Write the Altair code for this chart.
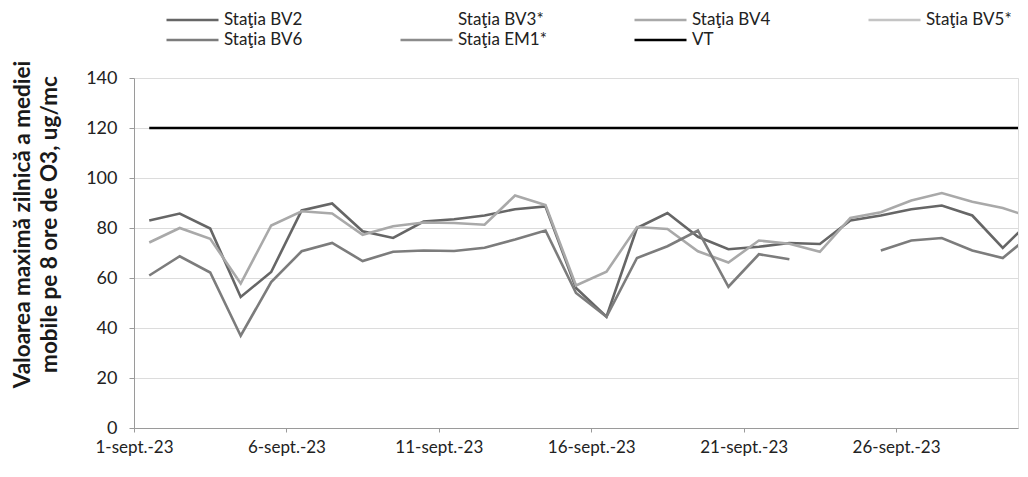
import altair as alt
import pandas as pd

days = list(range(1, 31))

series_names = ["Staţia BV2", "Staţia BV3*", "Staţia BV4", "Staţia BV5*",
                "Staţia BV6", "Staţia EM1*", "VT"]
series_colors = ["#666666", "#ffffff", "#a9a9a9", "#c4c4c4",
                 "#7c7c7c", "#8c8c8c", "#000000"]

bv2 = [83, 85.8, 79.8, 52.4, 62.4, 87, 89.8, 78.7, 76, 82.6,
       83.5, 85, 87.5, 88.6, 56, 44.5, 80, 86, 76.5, 71.5,
       72.5, 74, 73.6, 83, 85, 87.5, 89, 85, 72, 84]
bv4 = [74.2, 80, 75.7, 57.8, 81, 86.7, 85.8, 77.3, 80.7, 82.2,
       82, 81.3, 93, 89.2, 57, 62.5, 80.4, 79.6, 70.7, 66.2,
       75, 73.7, 70.5, 84, 86.3, 91, 94, 90.5, 88, 84]
bv6 = [61, 68.7, 62.2, 36.9, 58.4, 70.7, 74, 66.8, 70.5, 71,
       70.8, 72.1, 75.4, 79, 54, 44.5, 68, 72.7, 79, 56.5,
       69.5, 67.5, None, None, 71, 75, 76, 71, 68, 78]
vt = [120] * 30

values_by_series = {
    "Staţia BV2": bv2,
    "Staţia BV4": bv4,
    "Staţia BV6": bv6,
    "VT": vt,
}

rows = []
for name, vals in values_by_series.items():
    for d, v in zip(days, vals):
        rows.append({"date": f"2023-09-{d:02d}T12:00:00", "serie": name, "val": v})
df = pd.DataFrame(rows)

tick_days = [1, 6, 11, 16, 21, 26]

x_axis = alt.Axis(
    values=[alt.DateTime(year=2023, month=9, date=d) for d in tick_days],
    labelExpr="date(datum.value) + '-sept.-23'",
    title=None, grid=False, domainColor="#9a9a9a", tickColor="#9a9a9a",
    tickSize=4, labelPadding=7, labelFontSize=17, labelColor="#222222",
    labelFont="Lato", labelAngle=0, labelFlush=False,
)

y_axis = alt.Axis(
    values=[0, 20, 40, 60, 80, 100, 120, 140],
    title=["Valoarea maximă zilnică a mediei", "mobile pe 8 ore de O3, ug/mc"],
    titleFont="Lato", titleFontSize=22.5, titleFontWeight="bold", titleColor="#1a1a1a",
    titleLineHeight=27, titleAlign="center", titleBaseline="top",
    titleX=-123, titleY=146, titleAngle=270,
    grid=True, gridColor="#dcdcdc", domainColor="#9a9a9a", tickColor="#9a9a9a",
    tickSize=5, labelPadding=12, labelFontSize=18, labelColor="#222222",
    labelFont="Lato",
)

chart = alt.Chart(df).mark_line(
    strokeWidth=2.6, clip=True, invalid="break-paths-show-domains"
).encode(
    x=alt.X("date:T", axis=x_axis,
            scale=alt.Scale(domain=[alt.DateTime(year=2023, month=9, date=1),
                                    alt.DateTime(year=2023, month=9, date=30)])),
    y=alt.Y("val:Q", axis=y_axis, scale=alt.Scale(domain=[0, 140], nice=False)),
    color=alt.Color(
        "serie:N",
        scale=alt.Scale(domain=series_names, range=series_colors),
        sort=series_names,
        legend=alt.Legend(
            title=None, orient="none", legendX=31, legendY=-67,
            direction="horizontal",
            columns=4, columnPadding=86, rowPadding=2, gridAlign="all",
            clipHeight=18,
            symbolType="M-1,0L1,0", symbolSize=2704, symbolStrokeWidth=2.5,
            labelFont="Lato", labelFontSize=17, labelColor="#222222",
            labelOffset=4, padding=0,
        ),
    ),
).properties(
    width=884, height=350,
    padding={"left": 126, "top": 70, "right": 2, "bottom": 33},
    autosize=alt.AutoSizeParams(type="none"),
).configure_view(strokeWidth=0).configure(font="Lato")

chart.save("out.html", embed_options={"renderer": "svg", "actions": False})
